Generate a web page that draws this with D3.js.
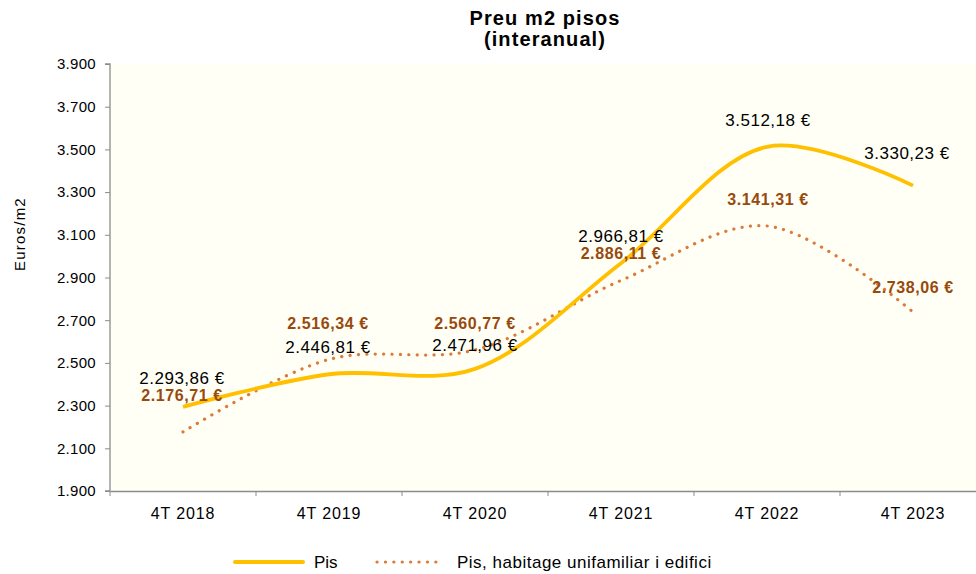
<!DOCTYPE html>
<html>
<head>
<meta charset="utf-8">
<script src="https://cdn.jsdelivr.net/npm/d3@7"></script>
<style>
	body { margin: 0; background: #fff; }
	svg { display: block; font-family: "Liberation Sans", Arial, sans-serif; }
</style>
</head>
<body>
<div class="chart"><svg></svg></div>
<script>
(function() {

	// DATA
	var categories = ['4T 2018', '4T 2019', '4T 2020', '4T 2021', '4T 2022', '4T 2023'];
	var pisValues = [2293.86, 2446.81, 2471.96, 2966.81, 3512.18, 3330.23];
	var unifValues = [2176.71, 2516.34, 2560.77, 2886.11, 3141.31, 2738.06];
	var yTicks = [1900, 2100, 2300, 2500, 2700, 2900, 3100, 3300, 3500, 3700, 3900];

	// label offsets (px) relative to each point, as Excel placed them
	var pisLabelDy = [-29, -27, -24, -27, -27, -33];
	var pisLabelDx = [-1, -1, 0, 0, 1, -6];
	var unifLabelDy = [-37, -36, -27, -27, -27, -25];
	var unifLabelDx = [-1, -1, 0, 0, 1, 0];

	var W = 976, H = 574;
	var margin = {top: 64, right: 0, bottom: 83, left: 110};
	var plotW = 876, plotH = H - margin.top - margin.bottom;

	var fmt = d3.formatLocale({decimal: ',', thousands: '.', grouping: [3], currency: ['', ' €']});
	var fmtTick = fmt.format(',d');
	var fmtVal = fmt.format(',.2f');

	var svg = d3.select('svg').attr('width', W).attr('height', H);

	svg.append('rect')
		.attr('x', margin.left).attr('y', margin.top)
		.attr('width', W - margin.left).attr('height', plotH)
		.attr('fill', '#fffff6');

	var x = d3.scaleBand().domain(categories).range([0, plotW]);
	var y = d3.scaleLinear().domain([1900, 3900]).range([plotH, 0]);

	var g = svg.append('g').attr('transform', 'translate(' + margin.left + ',' + margin.top + ')');

	// axes
	var yAxis = g.append('g')
		.call(d3.axisLeft(y).tickValues(yTicks).tickFormat(fmtTick).tickSize(5).tickPadding(9));
	var xAxis = g.append('g')
		.attr('transform', 'translate(0,' + plotH + ')')
		.call(d3.axisBottom(x).tickSize(0).tickPadding(17));

	// band boundary ticks on x axis
	xAxis.selectAll('.bound')
		.data(d3.range(categories.length + 1))
		.enter().append('line')
		.attr('x1', function(i) { return i * x.bandwidth(); })
		.attr('x2', function(i) { return i * x.bandwidth(); })
		.attr('y1', 0).attr('y2', 5)
		.attr('stroke', '#8c8c8c');

	[yAxis, xAxis].forEach(function(a) {
		a.select('.domain').attr('stroke', '#8c8c8c').attr('stroke-width', 1.3);
		a.selectAll('.tick line').attr('stroke', '#8c8c8c');
		a.selectAll('text').attr('fill', '#000').attr('font-family', '"Liberation Sans", Arial, sans-serif');
	});
	yAxis.selectAll('text').attr('font-size', 15).attr('letter-spacing', 0.3);
	xAxis.selectAll('text').attr('font-size', 16).attr('letter-spacing', 0.9);
	yAxis.select('.domain').attr('d', 'M-5,' + plotH + 'H0V0H-5');

	function cx(i) { return x(categories[i]) + x.bandwidth() / 2; }

	var line = d3.line()
		.x(function(d, i) { return cx(i); })
		.y(function(d) { return y(d); })
		.curve(d3.curveCatmullRom.alpha(0.5));

	g.append('path')
		.datum(unifValues)
		.attr('d', line)
		.attr('fill', 'none')
		.attr('stroke', '#dc7a3a')
		.attr('stroke-width', 3.2)
		.attr('stroke-linecap', 'round')
		.attr('stroke-dasharray', '0.1 8.3');

	g.append('path')
		.datum(pisValues)
		.attr('d', line)
		.attr('fill', 'none')
		.attr('stroke', '#ffc000')
		.attr('stroke-width', 3.8);

	// labels
	g.selectAll('.lab-pis')
		.data(pisValues)
		.enter().append('text')
		.attr('x', function(d, i) { return cx(i) + pisLabelDx[i]; })
		.attr('y', function(d, i) { return y(d) + pisLabelDy[i]; })
		.attr('dy', '0.35em')
		.attr('text-anchor', 'middle')
		.attr('font-size', 17)
		.attr('letter-spacing', 0.5)
		.attr('fill', '#000')
		.text(function(d) { return fmtVal(d) + ' €'; });

	g.selectAll('.lab-unif')
		.data(unifValues)
		.enter().append('text')
		.attr('x', function(d, i) { return cx(i) + unifLabelDx[i]; })
		.attr('y', function(d, i) { return y(d) + unifLabelDy[i]; })
		.attr('dy', '0.35em')
		.attr('text-anchor', 'middle')
		.attr('font-size', 16)
		.attr('letter-spacing', 0.6)
		.attr('font-weight', 'bold')
		.attr('fill', '#984a0e')
		.text(function(d) { return fmtVal(d) + ' €'; });

	// title
	var title = svg.append('text')
		.attr('text-anchor', 'middle')
		.attr('font-size', 20)
		.attr('letter-spacing', 1.1)
		.attr('font-weight', 'bold');
	title.append('tspan').attr('x', 545).attr('y', 25).text('Preu m2 pisos');
	title.append('tspan').attr('x', 545).attr('y', 46).text('(interanual)');

	// y label
	svg.append('text')
		.attr('transform', 'translate(25,234) rotate(-90)')
		.attr('text-anchor', 'middle')
		.attr('font-size', 15)
		.attr('letter-spacing', 1.2)
		.text('Euros/m2');

	// legend
	var leg = svg.append('g').attr('transform', 'translate(0,562)');
	leg.append('line').attr('x1', 235).attr('x2', 303).attr('y1', 0).attr('y2', 0)
		.attr('stroke', '#ffc000').attr('stroke-width', 4).attr('stroke-linecap', 'round');
	leg.append('text').attr('x', 314).attr('y', 0).attr('dy', '0.35em').attr('font-size', 17).text('Pis');
	leg.append('line').attr('x1', 377).attr('x2', 444).attr('y1', 0).attr('y2', 0)
		.attr('stroke', '#dc7a3a').attr('stroke-width', 3.2)
		.attr('stroke-linecap', 'round').attr('stroke-dasharray', '0.1 8.3');
	leg.append('text').attr('x', 457).attr('y', 0).attr('dy', '0.35em').attr('font-size', 17)
		.attr('letter-spacing', 0.5)
		.text('Pis, habitage unifamiliar i edifici');

})();
</script>
</body>
</html>
